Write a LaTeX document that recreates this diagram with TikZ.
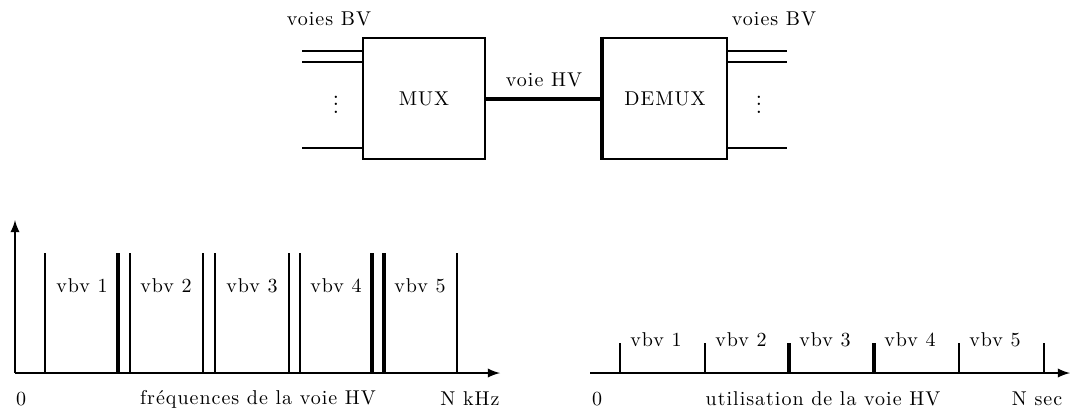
\documentclass[tikz,border=0pt]{standalone}
\usepackage{amsmath}
\usepackage{fontspec}
\setmainfont{Latin Modern Roman}[LetterSpace=5]
\usetikzlibrary{positioning}

\begin{document}
\begin{tikzpicture}[
          x=0.525pt, y=-0.525pt,
          every node/.style={font=\fontsize{10.5}{13}\selectfont},
          line/.style={line width=1.2pt},
          heavy/.style={line width=1.8pt},
          band/.style={line width=1pt},
          box/.style={draw, line width=1.2pt, minimum width=64pt, minimum height=63.5pt, inner sep=0pt},
          dots/.style={font=\fontsize{15}{18}\selectfont, inner sep=0pt},
          axis/.style={->, line width=1.2pt, >=latex}
        ]
          \useasboundingbox (0,0) rectangle (1070,408);

          % Multiplexer and demultiplexer
          \node[box] (mux) at (424,98.5) {MUX};
          \node[box, minimum width=65pt] (demux) at (665,98.5) {DEMUX};
          \draw[heavy] (demux.north west) -- (demux.south west);

          % Low speed channels
          \node (bvl) at (329,19) {voies BV};
          \node (bvr) at (774,19) {voies BV};
          \coordinate (in1) at (302,51);
          \coordinate (in2) at (302,62);
          \coordinate (in3) at (302,148);
          \coordinate (out1) at (787,51);
          \coordinate (out2) at (787,62);
          \coordinate (out3) at (787,148);
          \foreach \c in {in1,in2,in3} \draw[line] (\c) -- (\c -| mux.west);
          \foreach \c in {out1,out2,out3} \draw[line] (demux.east |- \c) -- (\c);
          \node[dots] (dotsl) at (336,99) {$\vdots$};
          \node[dots] (dotsr) at (759,99) {$\vdots$};

          % High speed channel
          \draw[heavy] (mux.east |- 0,99) -- node[above=2pt] (hv) {voie HV} (demux.west |- 0,99);

          % Frequency division
          \coordinate (o1) at (15,373);
          \coordinate (fx) at (500,373);
          \coordinate (fy) at (15,220);
          \draw[axis] (o1) -- (fx);
          \draw[axis] (o1) -- (fy);
          \foreach \x in {45,130,203,215,289,300,457}
            \draw[band] (o1 -| \x,0) -- (\x,253);
          \foreach \x in {118,372,384}
            \draw[heavy] (o1 -| \x,0) -- (\x,253);
          \foreach \x/\n in {82/1,166/2,252/3,336/4,420/5}
            \node (f\n) at (\x,286) {vbv \n};
          \node (zero1) at (21,399) {0};
          \node (flabel) at (258,399) {fréquences de la voie HV};
          \node (fmax) at (470,399) {N kHz};

          % Time division
          \coordinate (o2) at (590,373);
          \coordinate (tx) at (1070,373);
          \draw[axis] (o2) -- (tx);
          \foreach \x in {620,705,959,1044}
            \draw[band] (o2 -| \x,0) -- (\x,343);
          \foreach \x in {789,874}
            \draw[heavy] (o2 -| \x,0) -- (\x,343);
          \foreach \x/\n in {656/1,741/2,825/3,910/4,995/5}
            \node (t\n) at (\x,340) {vbv \n};
          \node (zero2) at (597,399) {0};
          \node (tlabel) at (823,399) {utilisation de la voie HV};
          \node (tmax) at (1037,399) {N sec};
        \end{tikzpicture}
\end{document}
